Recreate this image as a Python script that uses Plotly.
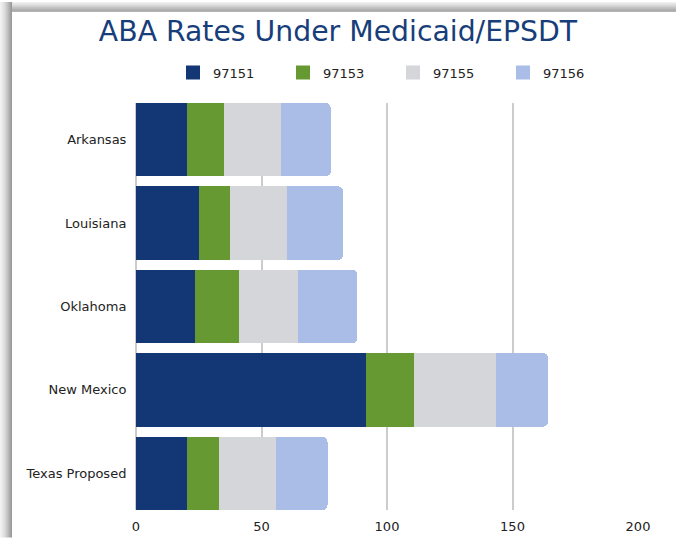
import plotly.graph_objects as go

states = ["Arkansas", "Louisiana", "Oklahoma", "New Mexico", "Texas Proposed"]
codes = ["97151", "97153", "97155", "97156"]
v97151 = [20.2, 25.1, 23.6, 91.8, 20.3]
v97153 = [15.0, 12.5, 17.4, 19.1, 12.9]
v97155 = [22.6, 22.6, 23.7, 32.5, 22.5]
v97156 = [19.8, 22.4, 23.5, 20.9, 20.6]
x_ticks = [0, 50, 100, 150, 200]

colors = ["#133774", "#679933", "#d5d6d9", "#a9bde6"]
series = [v97151, v97153, v97155, v97156]

FONT = "DejaVu Sans"
W, H = 676, 546
L, R, T, B = 136, 638, 103, 518

fig = go.Figure()
for name, vals, col in zip(codes, series, colors):
    fig.add_trace(go.Bar(
        y=states, x=vals, name=name, orientation="h", showlegend=False,
        legendgroup=name,
        marker=dict(color=col, line=dict(width=0)),
    ))
# legend entries with square swatches
for name, col in zip(codes, colors):
    fig.add_trace(go.Scatter(
        x=[None], y=[None], mode="markers", name=name, legendgroup=name,
        marker=dict(symbol="square", size=14, color=col, line=dict(width=0)),
        hoverinfo="skip",
    ))

def px_x(p):
    return (p - L) / (R - L)

def px_y(p):
    return (B - p) / (B - T)

shapes = []
# card shadow (left and top edges)
left_alphas = [0.05, 0.07, 0.09, 0.11, 0.14, 0.17, 0.20, 0.24, 0.28, 0.32, 0.36, 0.40]
for i, a in enumerate(left_alphas):
    shapes.append(dict(type="rect", xref="paper", yref="paper",
                       x0=px_x(i), x1=px_x(i + 1), y0=px_y(H), y1=px_y(0),
                       fillcolor=f"rgba(0,0,0,{a})", line=dict(width=0), layer="above"))
top_alphas = [0.06, 0.09, 0.12, 0.15, 0.19, 0.23, 0.27, 0.31, 0.35, 0.39]
for i, a in enumerate(top_alphas):
    shapes.append(dict(type="rect", xref="paper", yref="paper",
                       x0=px_x(12), x1=px_x(W), y0=px_y(i + 1), y1=px_y(i),
                       fillcolor=f"rgba(0,0,0,{a})", line=dict(width=0), layer="above"))

fig.update_layout(
    width=W, height=H,
    autosize=False,
    margin=dict(l=L, r=W - R, t=T, b=H - B, pad=0),
    barmode="stack",
    bargap=0.12,
    barcornerradius=5,
    paper_bgcolor="white",
    plot_bgcolor="white",
    font=dict(family=FONT, size=13, color="#222222"),
    title=dict(text="ABA Rates Under Medicaid/EPSDT", x=0.5, xanchor="center",
               y=1 - 31 / H, yanchor="middle",
               font=dict(family=FONT, size=28.3, color="#173e7a")),
    legend=dict(orientation="h", x=px_x(173), xanchor="left", y=px_y(72), yanchor="middle",
                entrywidth=65, entrywidthmode="pixels",
                font=dict(family=FONT, size=13, color="#222222"),
                traceorder="normal"),
    xaxis=dict(range=[0, 200], tickvals=x_ticks, showgrid=True, gridcolor="#cccccc",
               gridwidth=1.5, zeroline=True, zerolinecolor="#cccccc", zerolinewidth=1.5,
               showline=False, ticks="outside", ticklen=4, tickcolor="rgba(0,0,0,0)",
               tickfont=dict(family=FONT, size=13, color="#222222")),
    yaxis=dict(categoryorder="array", categoryarray=states, range=[4.44, -0.44],
               showgrid=False, zeroline=False, showline=False,
               ticks="outside", ticklen=6, tickcolor="rgba(0,0,0,0)",
               tickfont=dict(family=FONT, size=13, color="#222222")),
    shapes=shapes,
)

fig.write_html("out.html",
               config=dict(displayModeBar=False, responsive=False),
               post_script="document.body.style.margin='0';document.body.style.overflow='hidden';")
